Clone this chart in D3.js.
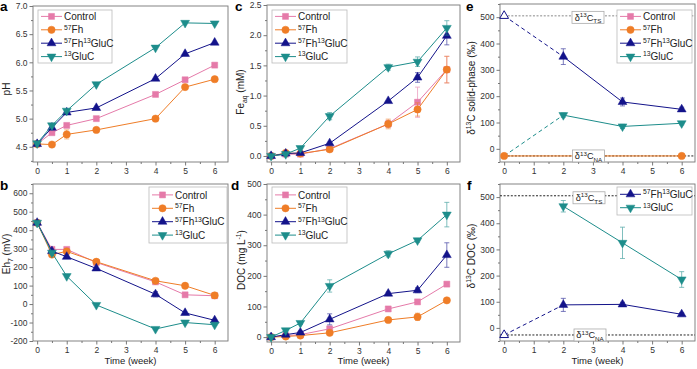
<!DOCTYPE html>
<html>
<head>
<meta charset="utf-8">
<script src="https://cdn.jsdelivr.net/npm/d3@7"></script>
<style>
  body { margin: 0; background: #fff; }
  text { font-family: "Liberation Sans", Arial, sans-serif; }
</style>
</head>
<body>
<svg id="fig" width="697" height="369"></svg>
<script>
// sampling times (week)
const weeks = [0, 0.5, 1, 2, 4, 5, 6];
const isoWeeks = [0, 2, 4, 6];

// a: pH
const phControl = [4.55, 4.75, 4.88, 5.00, 5.43, 5.69, 5.95];
const phFh      = [4.55, 4.54, 4.72, 4.80, 5.00, 5.56, 5.70];
const phFhGluC  = [4.55, 4.84, 5.11, 5.19, 5.71, 6.15, 6.35];
const phGluC    = [4.56, 4.88, 5.14, 5.61, 6.26, 6.70, 6.69];
const phFhErr   = [0, 0, 0.08, 0, 0, 0, 0];

// b: Eh7 (mV)
const ehControl = [440, 296, 296, 225, 120, 50, 45];
const ehFh      = [440, 268, 285, 229, 126, 99, 47];
const ehFhGluC  = [440, 287, 256, 193, 53, -48, -88];
const ehGluC    = [440, 278, 151, -5, -135, -100, -112];
const ehFhGluCErr = [0, 0, 0, 0, 14, 0, 0];

// c: Fe aq (mM)
const feControl = [0, 0.03, 0.03, 0.12, 0.53, 0.89, 1.43];
const feFh      = [0, 0.05, 0.04, 0.11, 0.53, 0.77, 1.43];
const feFhGluC  = [0, 0.04, 0.05, 0.21, 0.91, 1.30, 1.99];
const feGluC    = [0, 0.03, 0.13, 0.66, 1.47, 1.56, 2.12];
const feControlErr = [0, 0, 0, 0, 0.06, 0.25, 0.22];
const feFhErr      = [0, 0, 0, 0.03, 0.08, 0.11, 0.22];
const feFhGluCErr  = [0, 0, 0, 0, 0, 0.08, 0.15];
const feGluCErr    = [0, 0, 0, 0.06, 0.05, 0.08, 0.12];

// d: DOC (mg/L)
const docControl = [0, 5, 8, 27, 92, 115, 173];
const docFh      = [0, 2, 5, 14, 56, 66, 120];
const docFhGluC  = [0, 8, 15, 58, 142, 153, 268];
const docGluC    = [0, 22, 46, 167, 272, 316, 400];
const docControlErr = [0, 0, 0, 5, 8, 6, 6];
const docFhErr      = [0, 0, 0, 4, 5, 12, 6];
const docFhGluCErr  = [0, 0, 5, 18, 5, 8, 40];
const docGluCErr    = [0, 3, 5, 20, 10, 6, 40];

// e: d13C solid phase (permil)
const solidFhGluC = [505, 350, 178, 150];
const solidGluC   = [-27, 128, 85, 97];
const solidFhWeeks = [0, 6];
const solidFh     = [-27, -27];
const solidFhGluCErr = [0, 30, 15, 8];
const solidGluCErr   = [0, 8, 8, 6];

// f: d13C DOC (permil)
const docIsoFhGluC = [-27, 88, 90, 52];
const docIsoGluCWeeks = [2, 4, 6];
const docIsoGluC  = [465, 325, 185];
const docIsoFhGluCErr = [0, 25, 8, 6];
const docIsoGluCErr   = [22, 60, 30];

const d13C_TS = 505;
const d13C_NA = -27;

const xTicks = [0, 1, 2, 3, 4, 5, 6];

// series styles
const S = {
  control: { color: "#e57aa9", shape: "square", label: [["Control"]] },
  fh:      { color: "#ef7d27", shape: "circle", label: [["57", "sup"], ["Fh"]] },
  fhgluc:  { color: "#13138a", shape: "up",     label: [["57", "sup"], ["Fh"], ["13", "sup"], ["GluC"]] },
  gluc:    { color: "#1d8d8b", shape: "down",   label: [["13", "sup"], ["GluC"]] }
};

const svg = d3.select("#fig");

function rich(sel, parts, size) {
  let shift = 0;
  parts.forEach(([t, k]) => {
    const target = k === "sup" ? -0.38 * size : k === "sub" ? 0.28 * size : 0;
    sel.append("tspan")
      .attr("dy", target - shift)
      .attr("font-size", k ? size * 0.68 : size)
      .text(t);
    shift = target;
  });
}

function marker(g, cx, cy, s, open) {
  const type = s.shape === "square" ? d3.symbolSquare : s.shape === "circle" ? d3.symbolCircle : d3.symbolTriangle;
  const size = s.shape === "square" ? 36 : s.shape === "circle" ? 42 : 34;
  g.append("path")
    .attr("d", d3.symbol().type(type).size(size)())
    .attr("transform", `translate(${cx},${cy})` + (s.shape === "down" ? " rotate(180)" : ""))
    .attr("fill", open ? "#fff" : s.color)
    .attr("stroke", s.color)
    .attr("stroke-width", open ? 1 : 0.5);
}

function series(p, xs, ys, errs, s, opts = {}) {
  const { g, x, y } = p;
  const pts = xs.map((t, i) => ({ t, v: ys[i], e: errs ? errs[i] : 0 }));
  const line = d3.line().x(d => x(d.t)).y(d => y(d.v));
  if (opts.dashFirst) {
    g.append("path").attr("d", line(pts.slice(0, 2))).attr("fill", "none")
      .attr("stroke", s.color).attr("stroke-width", 1).attr("stroke-dasharray", "4,3");
    g.append("path").attr("d", line(pts.slice(1))).attr("fill", "none")
      .attr("stroke", s.color).attr("stroke-width", 1);
  } else {
    g.append("path").attr("d", line(pts)).attr("fill", "none")
      .attr("stroke", s.color).attr("stroke-width", 1);
  }
  pts.filter(d => d.e > 0).forEach(d => {
    const cx = x(d.t), y1 = y(d.v - d.e), y2 = y(d.v + d.e);
    const eg = g.append("g").attr("stroke", s.color).attr("stroke-width", 0.8).attr("opacity", 0.7);
    eg.append("line").attr("x1", cx).attr("x2", cx).attr("y1", y1).attr("y2", y2);
    eg.append("line").attr("x1", cx - 2.5).attr("x2", cx + 2.5).attr("y1", y1).attr("y2", y1);
    eg.append("line").attr("x1", cx - 2.5).attr("x2", cx + 2.5).attr("y1", y2).attr("y2", y2);
  });
  pts.forEach((d, i) => {
    if (opts.hideFirst && i === 0) return;
    marker(g, x(d.t), y(d.v), s, opts.openFirst && i === 0);
  });
}

function panel(cfg) {
  const g = svg.append("g");
  const x = d3.scaleLinear().domain([-0.14, 6.45]).range([cfg.left, cfg.right]);
  const y = d3.scaleLinear().domain(cfg.yDomain).range([cfg.bottom, cfg.top]);

  const xMinor = d3.range(0.5, 6.5, 1);
  const yMinor = cfg.yTicks.slice(0, -1).map((v, i) => (v + cfg.yTicks[i + 1]) / 2);
  const step = cfg.yTicks[1] - cfg.yTicks[0];
  if (cfg.yTicks[cfg.yTicks.length - 1] + step / 2 <= cfg.yDomain[1]) yMinor.push(cfg.yTicks[cfg.yTicks.length - 1] + step / 2);
  if (cfg.yTicks[0] - step / 2 >= cfg.yDomain[0]) yMinor.push(cfg.yTicks[0] - step / 2);

  const style = sel => {
    sel.select(".domain").remove();
    sel.selectAll("line").attr("stroke", "#555").attr("stroke-width", 0.8);
    sel.selectAll("text").attr("fill", "#333").attr("font-size", 8.5)
      .attr("font-family", "'Liberation Sans', Arial, sans-serif");
  };

  g.append("g").attr("transform", `translate(0,${cfg.bottom})`)
    .call(d3.axisBottom(x).tickValues(xMinor).tickSize(2).tickFormat("")).call(style);
  g.append("g").attr("transform", `translate(0,${cfg.bottom})`)
    .call(d3.axisBottom(x).tickValues(xTicks).tickSize(3.5).tickPadding(2).tickFormat(d => d)).call(style);
  g.append("g").attr("transform", `translate(${cfg.left},0)`)
    .call(d3.axisLeft(y).tickValues(yMinor).tickSize(2).tickFormat("")).call(style);
  g.append("g").attr("transform", `translate(${cfg.left},0)`)
    .call(d3.axisLeft(y).tickValues(cfg.yTicks).tickSize(3.5).tickPadding(2).tickFormat(cfg.fmt || (d => d))).call(style);

  g.append("rect")
    .attr("x", cfg.left).attr("y", cfg.top)
    .attr("width", cfg.right - cfg.left).attr("height", cfg.bottom - cfg.top)
    .attr("fill", "none").attr("stroke", "#777").attr("stroke-width", 0.9);

  // panel letter
  g.append("text").attr("x", cfg.letterX).attr("y", cfg.letterY)
    .attr("font-size", 13.5).attr("font-weight", "bold").attr("fill", "#000").text(cfg.letter);

  // y title
  const yt = g.append("text")
    .attr("transform", `translate(${cfg.yLabelX},${cfg.yLabelY}) rotate(-90)`)
    .attr("text-anchor", "middle").attr("fill", "#222");
  rich(yt, cfg.yLabel, 10);

  if (cfg.xTitle) {
    g.append("text").attr("x", (cfg.left + cfg.right) / 2).attr("y", 364)
      .attr("text-anchor", "middle").attr("font-size", 9.5).attr("fill", "#222").text("Time (week)");
  }
  return { g, x, y, cfg };
}

function legend(p, bx, by, bw, bh, items) {
  const g = p.g.append("g");
  g.append("rect").attr("x", bx).attr("y", by).attr("width", bw).attr("height", bh)
    .attr("fill", "#fff").attr("stroke", "#bbb").attr("stroke-width", 0.8);
  const gap = 13.4;
  const y0 = by + (bh - gap * (items.length - 1)) / 2;
  items.forEach((s, i) => {
    const cy = y0 + i * gap;
    g.append("line").attr("x1", bx + 3).attr("x2", bx + 24).attr("y1", cy).attr("y2", cy)
      .attr("stroke", s.color).attr("stroke-width", 1);
    marker(g, bx + 13.5, cy, s, false);
    const t = g.append("text").attr("x", bx + 26).attr("y", cy + 3.6).attr("fill", "#222");
    rich(t, s.label, 10);
  });
}

function refBox(p, cx, cy, sub) {
  const g = p.g.append("g");
  g.append("rect").attr("x", cx - 16).attr("y", cy - 6).attr("width", 32).attr("height", 12)
    .attr("fill", "#fff").attr("stroke", "#aaa").attr("stroke-width", 0.8);
  const t = g.append("text").attr("x", cx).attr("y", cy + 3.2).attr("text-anchor", "middle").attr("fill", "#222");
  rich(t, [["δ"], ["13", "sup"], ["C"], [sub, "sub"]], 9.2);
}

function refLine(p, x1, v, color) {
  p.g.append("line").attr("x1", x1).attr("x2", p.cfg.right).attr("y1", p.y(v)).attr("y2", p.y(v))
    .attr("stroke", color).attr("stroke-width", 1).attr("stroke-dasharray", "2,1.6");
}

const four = [S.control, S.fh, S.fhgluc, S.gluc];

// ---- a: pH
const pa = panel({ left: 33, right: 228, top: 6, bottom: 162, yDomain: [4.23, 7.0],
  yTicks: [4.5, 5.0, 5.5, 6.0, 6.5, 7.0], fmt: d3.format(".1f"),
  letter: "a", letterX: 0, letterY: 11, yLabel: [["pH"]], yLabelX: 10, yLabelY: 89 });
series(pa, weeks, phControl, null, S.control);
series(pa, weeks, phFh, phFhErr, S.fh);
series(pa, weeks, phFhGluC, null, S.fhgluc);
series(pa, weeks, phGluC, null, S.gluc);
legend(pa, 38, 10, 74, 53, four);

// ---- b: Eh
const pb = panel({ left: 33, right: 228, top: 184, bottom: 341, yDomain: [-200, 650],
  yTicks: [-200, -100, 0, 100, 200, 300, 400, 500, 600],
  letter: "b", letterX: 0, letterY: 190, yLabel: [["Eh"], ["7", "sub"], [" (mV)"]], yLabelX: 10, yLabelY: 254,
  xTitle: true });
series(pb, weeks, ehControl, null, S.control);
series(pb, weeks, ehFh, null, S.fh);
series(pb, weeks, ehFhGluC, ehFhGluCErr, S.fhgluc);
series(pb, weeks, ehGluC, null, S.gluc);
legend(pb, 149, 187, 78, 56, four);

// ---- c: Fe
const pc = panel({ left: 267, right: 460, top: 5, bottom: 162, yDomain: [-0.1, 2.5],
  yTicks: [0, 0.5, 1.0, 1.5, 2.0, 2.5], fmt: d3.format(".1f"),
  letter: "c", letterX: 235, letterY: 11, yLabel: [["Fe"], ["aq", "sub"], [" (mM)"]], yLabelX: 244, yLabelY: 92 });
series(pc, weeks, feControl, feControlErr, S.control);
series(pc, weeks, feFh, feFhErr, S.fh);
series(pc, weeks, feFhGluC, feFhGluCErr, S.fhgluc);
series(pc, weeks, feGluC, feGluCErr, S.gluc);
legend(pc, 272, 10, 75, 53, four);

// ---- d: DOC
const pd = panel({ left: 267, right: 460, top: 184, bottom: 342, yDomain: [-16, 500],
  yTicks: [0, 100, 200, 300, 400, 500],
  letter: "d", letterX: 231, letterY: 190, yLabel: [["DOC (mg L"], ["-1", "sup"], [")"]], yLabelX: 245, yLabelY: 260,
  xTitle: true });
series(pd, weeks, docControl, docControlErr, S.control);
series(pd, weeks, docFh, docFhErr, S.fh);
series(pd, weeks, docFhGluC, docFhGluCErr, S.fhgluc);
series(pd, weeks, docGluC, docGluCErr, S.gluc);
legend(pd, 272, 187, 75, 56, four);

// ---- e: d13C solid phase
const pe = panel({ left: 500, right: 695, top: 4, bottom: 162, yDomain: [-50, 550],
  yTicks: [0, 100, 200, 300, 400, 500],
  letter: "e", letterX: 466, letterY: 11, yLabel: [["δ"], ["13", "sup"], ["C solid-phase (‰)"]], yLabelX: 475, yLabelY: 88 });
refLine(pe, pe.x(0), d13C_TS, "#888");
refLine(pe, pe.x(0), d13C_NA, "#222");
refBox(pe, 588, pe.y(d13C_TS) + 1.5, "TS");
series(pe, isoWeeks, solidFhGluC, solidFhGluCErr, S.fhgluc, { dashFirst: true, openFirst: true });
series(pe, isoWeeks, solidGluC, solidGluCErr, S.gluc, { dashFirst: true, hideFirst: true });
series(pe, solidFhWeeks, solidFh, null, S.fh);
refBox(pe, 588.5, pe.y(d13C_NA), "NA");
legend(pe, 617, 10, 75, 53, four);

// ---- f: d13C DOC
const pf = panel({ left: 500, right: 695, top: 184, bottom: 341, yDomain: [-50, 550],
  yTicks: [0, 100, 200, 300, 400, 500],
  letter: "f", letterX: 467, letterY: 190, yLabel: [["δ"], ["13", "sup"], ["C DOC (‰)"]], yLabelX: 475, yLabelY: 256,
  xTitle: true });
refLine(pf, pf.cfg.left, d13C_TS, "#222");
refLine(pf, pf.cfg.left, d13C_NA, "#222");
refBox(pf, 589, pf.y(d13C_TS) + 2, "TS");
refBox(pf, 590, pf.y(d13C_NA), "NA");
series(pf, isoWeeks, docIsoFhGluC, docIsoFhGluCErr, S.fhgluc, { dashFirst: true, openFirst: true });
series(pf, docIsoGluCWeeks, docIsoGluC, docIsoGluCErr, S.gluc);
legend(pf, 617, 187, 75, 28, [S.fhgluc, S.gluc]);
</script>
</body>
</html>
